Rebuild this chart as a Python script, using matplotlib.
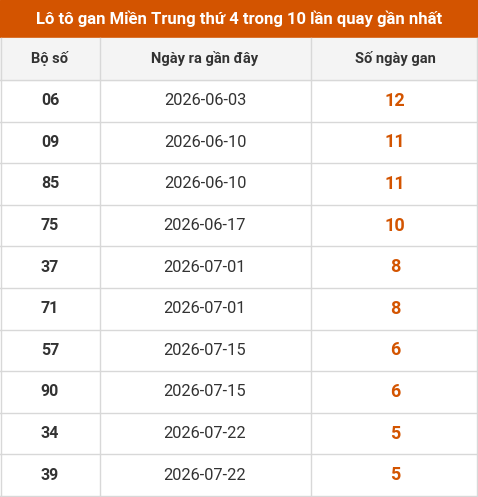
import matplotlib
matplotlib.use("Agg")
import matplotlib.pyplot as plt
from matplotlib.patches import Rectangle

title = "Lô tô gan Miền Trung thứ 4 trong 10 lần quay gần nhất"
headers = ["Bộ số", "Ngày ra gần đây", "Số ngày gan"]
numbers = ["06", "09", "85", "75", "37", "71", "57", "90", "34", "39"]
dates = ["2026-06-03", "2026-06-10", "2026-06-10", "2026-06-17", "2026-07-01",
         "2026-07-01", "2026-07-15", "2026-07-15", "2026-07-22", "2026-07-22"]
gan_days = [12, 11, 11, 10, 8, 8, 6, 6, 5, 5]

W, H = 478, 497
fig = plt.figure(figsize=(W / 100, H / 100), dpi=100)
ax = fig.add_axes([0, 0, 1, 1])
ax.set_xlim(0, W)
ax.set_ylim(H, 0)
ax.axis("off")
plt.rcParams['font.family'] = ['Roboto', 'DejaVu Sans']

orange = "#d35400"
grid = "#d8d8d8"
col_x = [0, 100, 311, W]
centers = [50, 205, 395]

ax.add_patch(Rectangle((0, 0), W, 38, color=orange))
ax.text(W / 2, 19, title, color="white", fontsize=12, fontweight="bold",
        ha="center", va="center")

head_top, head_h = 38, 42
ax.add_patch(Rectangle((0, head_top), W, head_h, color="#f4f4f4"))
for cx, h in zip(centers, headers):
    ax.text(cx, head_top + head_h / 2, h, fontsize=10.5, fontweight="bold",
            color="#333333", ha="center", va="center")

row_top = head_top + head_h
row_h = (H - 1 - row_top) / len(numbers)
for i, (n, d, g) in enumerate(zip(numbers, dates, gan_days)):
    y = row_top + (i + 0.5) * row_h
    ax.text(centers[0], y, n, fontsize=11.5, fontweight="bold", color="#333333",
            ha="center", va="center")
    ax.text(centers[1], y, d, fontsize=11.8, color="#333333",
            ha="center", va="center")
    ax.text(centers[2], y, str(g), fontsize=13, fontweight="bold", color=orange,
            ha="center", va="center")

for i in range(len(numbers) + 1):
    yy = row_top + i * row_h
    ax.plot([0, W], [yy, yy], color=grid, lw=1)
for x in col_x:
    xx = min(max(x, 0.5), W - 0.5)
    ax.plot([xx, xx], [head_top, H - 1], color=grid, lw=1)

fig.savefig("out.png", dpi=100)
